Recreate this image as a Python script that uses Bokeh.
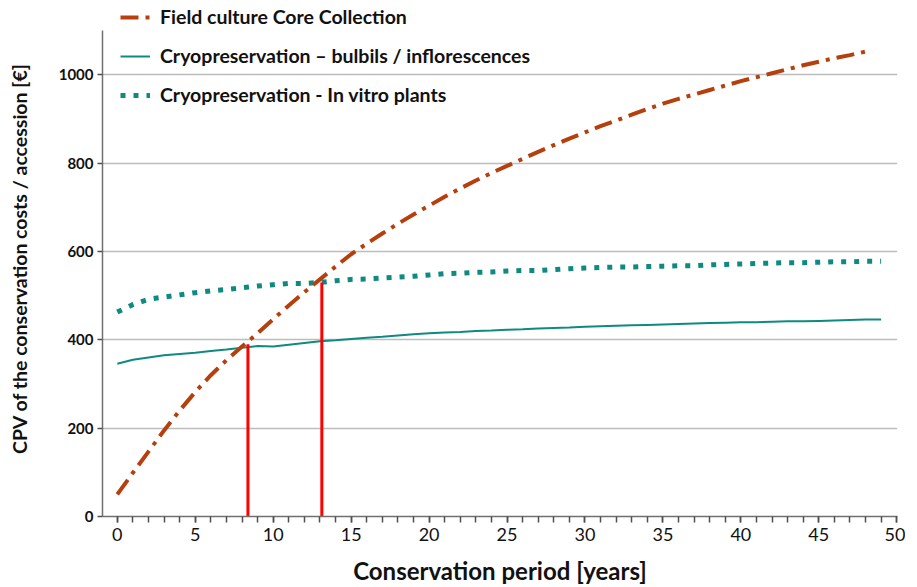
from bokeh.plotting import figure
from bokeh.models import Range1d, FixedTicker, Legend, LegendItem
from bokeh.embed import file_html
from bokeh.resources import INLINE

# ---- data ----
years_field = list(range(0, 49))
field_culture = [50, 99, 147, 195, 240, 282, 320, 354, 385, 415,
                 447, 478, 508, 537, 566, 594, 618, 641, 663, 684,
                 704, 724, 743, 761, 778, 794, 810, 826, 841, 856,
                 870, 884, 897, 910, 923, 935, 946, 956, 966, 976,
                 986, 995, 1004, 1013, 1022, 1030, 1038, 1045, 1053]

years_cryo = list(range(0, 50))
cryo_bulbils = [346, 355, 360, 365, 368, 371, 375, 378, 382, 386,
                385, 389, 393, 397, 399, 402, 405, 407, 410, 413,
                415, 417, 418, 420, 421, 423, 424, 426, 427, 428,
                430, 431, 432, 433, 434, 435, 436, 437, 438, 439,
                440, 440, 441, 442, 442, 443, 444, 445, 446, 446]
cryo_invitro = [463, 480, 492, 497, 502, 507, 511, 514, 518, 522,
                525, 528, 528, 530, 534, 537, 538, 540, 542, 544,
                547, 550, 551, 553, 554, 556, 557, 557, 559, 561,
                563, 564, 565, 565, 566, 567, 568, 568, 570, 571,
                572, 573, 574, 575, 575, 576, 577, 577, 578, 578]

# break-even points (vertical red markers)
breakeven_years = [8.38, 13.12]
breakeven_values = [390, 530]

x_ticks = [0, 5, 10, 15, 20, 25, 30, 35, 40, 45, 50]
y_ticks = [0, 200, 400, 600, 800, 1000]

FIELD_COLOR = "#B5400E"
TEAL = "#0F8A80"
FONT = "Lato"

p = figure(frame_width=795, frame_height=516, output_backend="svg", toolbar_location=None,
           x_range=Range1d(-0.95, 50.05), y_range=Range1d(0, 1168.7),
           min_border_left=102, min_border_right=8, min_border_top=0,
           min_border_bottom=70)
p.outline_line_color = None
p.background_fill_color = "white"
p.border_fill_color = "white"

# grid
p.xgrid.grid_line_color = None
p.ygrid.ticker = FixedTicker(ticks=[200, 400, 600, 800, 1000])
p.ygrid.grid_line_color = "#BDBDBD"
p.ygrid.grid_line_width = 1.5

# x axis
xa = p.xaxis[0]
xa.ticker = FixedTicker(ticks=x_ticks, minor_ticks=list(range(0, 51)))
xa.bounds = (-0.95, 50.05)
xa.axis_line_color = "#707070"
xa.axis_line_width = 1.5
xa.major_tick_line_color = "#505050"
xa.minor_tick_line_color = "#505050"
xa.major_tick_line_width = 1.5
xa.minor_tick_line_width = 1.5
xa.major_tick_in = 0
xa.major_tick_out = 6
xa.minor_tick_in = 0
xa.minor_tick_out = 6
xa.major_label_text_font = FONT
xa.major_label_text_font_size = "18px"
xa.major_label_text_color = "#111111"
xa.major_label_standoff = 5
xa.axis_label = "Conservation period [years]"
xa.axis_label_text_font = FONT
xa.axis_label_text_font_style = "bold"
xa.axis_label_text_font_size = "24px"
xa.axis_label_text_color = "#111111"
xa.axis_label_standoff = 12

# y axis
ya = p.yaxis[0]
ya.ticker = FixedTicker(ticks=y_ticks)
ya.bounds = (0, 1100)
ya.axis_line_color = "#707070"
ya.axis_line_width = 1.5
ya.major_tick_line_color = "#505050"
ya.major_tick_line_width = 1.5
ya.major_tick_in = 0
ya.major_tick_out = 5
ya.minor_tick_line_color = None
ya.major_label_text_font = FONT
ya.major_label_text_font_style = "bold"
ya.major_label_text_font_size = "15px"
ya.major_label_text_color = "#111111"
ya.major_label_standoff = 4
ya.axis_label = "CPV of the conservation costs / accession [€]"
ya.axis_label_text_font = FONT
ya.axis_label_text_font_style = "bold"
ya.axis_label_text_font_size = "19.5px"
ya.axis_label_text_color = "#111111"
ya.axis_label_standoff = 25

# lines
r_bulb = p.line(years_cryo, cryo_bulbils, line_color=TEAL, line_width=2)
r_vitro = p.line(years_cryo, cryo_invitro, line_color=TEAL, line_width=5,
                 line_dash="5 8")
r_field = p.line(years_field, field_culture, line_color=FIELD_COLOR, line_width=4,
                 line_dash="18 7 4 7")
p.segment(x0=breakeven_years, y0=[0, 0], x1=breakeven_years, y1=breakeven_values,
          line_color="#FF0000", line_width=3)

legend = Legend(items=[
    LegendItem(label="Field culture Core Collection", renderers=[r_field]),
    LegendItem(label="Cryopreservation \u2013 bulbils / inflorescences", renderers=[r_bulb]),
    LegendItem(label="Cryopreservation - In vitro plants", renderers=[r_vitro]),
], location=(18, 410))
legend.background_fill_alpha = 0
legend.border_line_alpha = 0
legend.padding = 0
legend.margin = 0
legend.spacing = 16
legend.label_height = 22
legend.glyph_height = 22
legend.glyph_width = 30
legend.label_standoff = 10
legend.label_text_font = FONT
legend.label_text_font_style = "bold"
legend.label_text_font_size = "19.5px"
legend.label_text_color = "#111111"
p.add_layout(legend, "center")

open("out.html", "w").write(file_html(p, INLINE))
